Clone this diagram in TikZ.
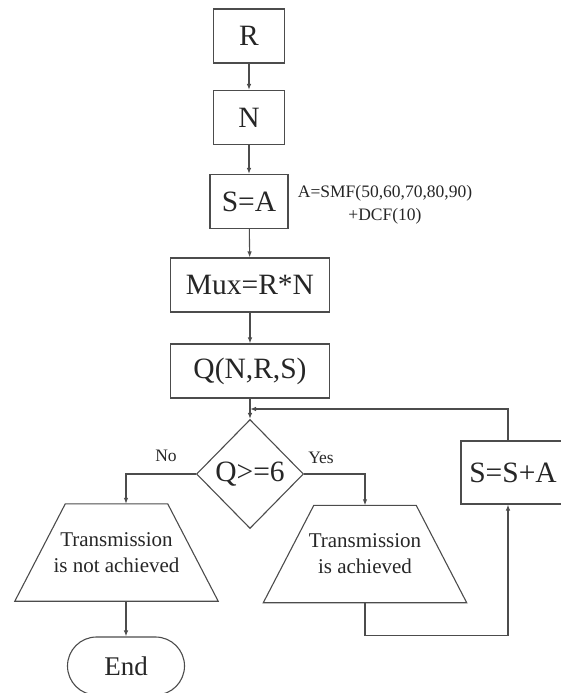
\documentclass[tikz,border=0pt]{standalone}
\usepackage{fontspec}
\setmainfont{Liberation Serif}
\usetikzlibrary{shapes.geometric, shapes.misc, arrows.meta}
\newcommand{\zw}[1]{\makebox[0pt]{#1}}

\begin{document}
\begin{tikzpicture}[x=1pt, y=-1pt,
    line/.style={draw=black!70, line width=1.1pt},
    arr/.style={line, -{Latex[length=6pt, width=4.5pt]}},
    block/.style={rectangle, line, minimum height=54pt, inner sep=0pt, text=black!85, font=\fontsize{29.5}{31}\selectfont},
    decision/.style={diamond, aspect=1, line, minimum width=107pt, minimum height=109pt, inner sep=0pt, text=black!85, font=\fontsize{29.5}{31}\selectfont},
    io/.style={rectangle, minimum width=102pt, minimum height=97pt, inner sep=0pt, align=center, text=black!85, font=\fontsize{21}{26}\selectfont},
    stop/.style={rounded rectangle, line, minimum width=117pt, minimum height=58pt, inner sep=0pt, text=black!85, font=\fontsize{27}{29}\selectfont},
    lbl/.style={inner sep=0pt, align=center, text=black!85, font=\fontsize{17.5}{23}\selectfont}]
    \useasboundingbox (0,0) rectangle (561,693);

    % main column
    \node[block, minimum width=71pt] (R) at (249,36) {R};
    \node[block, minimum width=71pt] (N) at (249,117.5) {N};
    \node[block, minimum width=78pt] (SA) at (249,201.5) {S=A};
    \node[lbl] (note) at (385,204.5) {A=SMF(50,60,70,80,90)\\+DCF(10)};
    \node[block, minimum width=159pt] (Mux) at (250,285) {Mux=R*N};
    \node[block, minimum width=159pt] (Q) at (250,371) {Q(N,R,S)};
    \node[decision] (D) at (250,474) {Q>=6};
    \coordinate (join) at (250,409);

    % branches
    \node[io] (L) at (116.5,552.5) {\zw{Transmission}\\\zw{is not achieved}};
    \node[io] (Y) at (365,554) {\zw{Transmission}\\\zw{is achieved}};
    \foreach \t in {L,Y}
        \draw[line] (\t.north west) -- (\t.north east) -- ([xshift=50.5pt]\t.south east)
            -- ([xshift=-50.5pt]\t.south west) -- cycle;
    \node[block, minimum width=104pt, minimum height=63pt] (SSA) at (513,472.5) {S=S+A};
    \node[stop] (E) at (126,666) {End};

    \node[lbl] (no) at (166,456) {No};
    \node[lbl] (yes) at (321,458) {Yes};

    \draw[arr] (R) -- (N);
    \draw[arr] (N) -- (SA);
    \draw[arr] (SA) -- (Mux);
    \draw[arr] (Mux) -- (Q);
    \draw[arr] (Q) -- (D);

    \draw[arr] (D.west) -| (L.north -| E.north);
    \draw[arr] (D.east) -| (Y.north);
    \draw[arr] (L.south -| E.north) -- (E.north);
    \draw[arr] (Y.south) -- ++(0,33) -| ([xshift=-5pt]SSA.south);
    \draw[arr] ([xshift=-5pt]SSA.north) |- (join);
\end{tikzpicture}
\end{document}
